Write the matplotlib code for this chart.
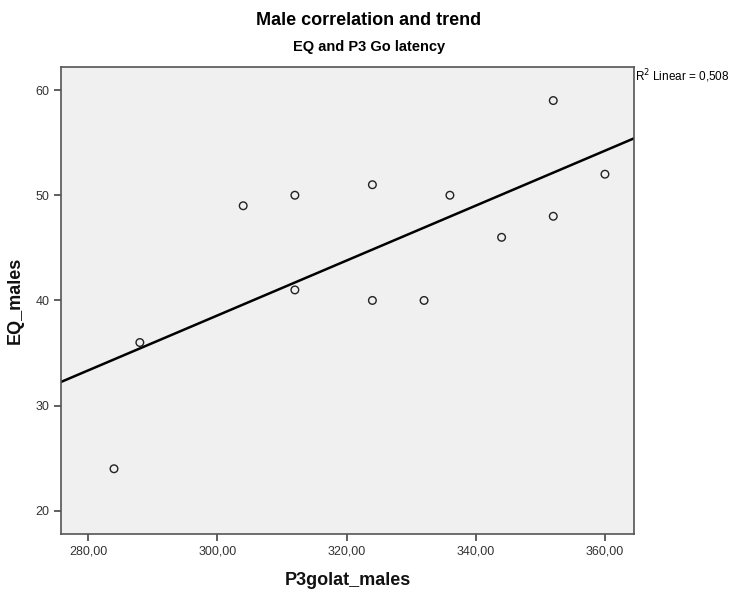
import matplotlib
matplotlib.use('Agg')
import matplotlib.pyplot as plt
from matplotlib.ticker import FuncFormatter
import numpy as np

# values
p3golat = [284, 288, 304, 312, 312, 324, 324, 332, 336, 344, 352, 352, 360]
eq = [24, 36, 49, 50, 41, 51, 40, 40, 50, 46, 59, 48, 52]
xticks = [280, 300, 320, 340, 360]
yticks = [20, 30, 40, 50, 60]

narrow = ['Liberation Sans Narrow', 'Liberation Sans', 'DejaVu Sans']
plt.rcParams['font.family'] = narrow

fig = plt.figure(figsize=(7.38, 5.92), dpi=100)
ax = fig.add_axes([0.0827, 0.098, 0.7764, 0.789])
ax.set_facecolor('#f0f0f0')

x = np.array(p3golat, dtype=float)
y = np.array(eq, dtype=float)
xmin, xmax = 275.8, 364.5
ax.set_xlim(xmin, xmax)
ax.set_ylim(17.8, 62.2)

slope, icpt = np.polyfit(x, y, 1)
r2 = np.corrcoef(x, y)[0, 1] ** 2
xl = np.array([xmin, xmax])
ax.plot(xl, slope * xl + icpt, color='black', lw=1.8, zorder=2)
ax.scatter(x, y, s=30, facecolors='none', edgecolors='#222222', linewidths=1.0, zorder=3)

ax.set_xticks(xticks)
ax.set_yticks(yticks)
ax.xaxis.set_major_formatter(FuncFormatter(lambda v, p: ('%.2f' % v).replace('.', ',')))
ax.tick_params(direction='out', length=5, width=1.2, colors='#444444', labelcolor='#333333', labelsize=9)
for s in ax.spines.values():
    s.set_color('#555555')
    s.set_linewidth(1.2)

ax.set_xlabel('P3golat_males', fontsize=13, fontweight='bold', labelpad=10, color='#111111')
ax.set_ylabel('EQ_males', fontsize=13, fontweight='bold', labelpad=8, color='#111111')

fig.text(0.5, 0.966, 'Male correlation and trend', ha='center', va='center', fontsize=13, fontweight='bold')
fig.text(0.5, 0.921, 'EQ and P3 Go latency', ha='center', va='center', fontsize=10.5, fontweight='bold')
fig.text(0.861, 0.872, 'R$^2$ Linear = %s' % ('%.3f' % r2).replace('.', ','),
         ha='left', va='center', fontsize=8.5, family=['Liberation Sans', 'DejaVu Sans'])

fig.savefig('out.png', dpi=100)
